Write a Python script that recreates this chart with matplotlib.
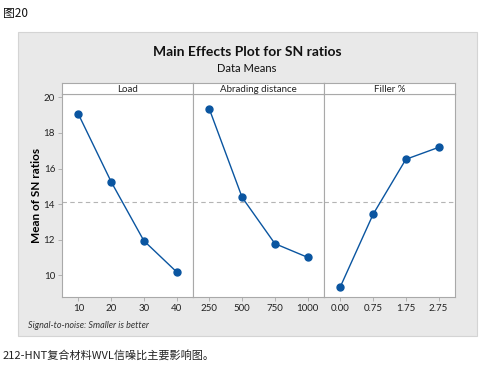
import matplotlib
matplotlib.use("Agg")
import matplotlib.pyplot as plt
from matplotlib.patches import Rectangle

plt.rcParams['font.family'] = ['Lato', 'Noto Sans CJK SC', 'DejaVu Sans']

factors = ["Load", "Abrading distance", "Filler %"]
load_levels = ["10", "20", "30", "40"]
load_means = [19.06, 15.26, 11.94, 10.19]
dist_levels = ["250", "500", "750", "1000"]
dist_means = [19.34, 14.38, 11.78, 11.01]
filler_levels = ["0.00", "0.75", "1.75", "2.75"]
filler_means = [9.36, 13.43, 16.52, 17.19]
y_ticks = [10, 12, 14, 16, 18, 20]

levels = [load_levels, dist_levels, filler_levels]
means = [load_means, dist_means, filler_means]
overall = sum(load_means + dist_means + filler_means) / 12

W, H = 489, 371
fig = plt.figure(figsize=(W / 100, H / 100), dpi=100)

def fx(px):
    return px / W

def fy(py):
    return 1 - py / H

# grey background panel
fig.patches.append(Rectangle((fx(18), fy(336)), fx(459), (336 - 32) / H,
                             transform=fig.transFigure, facecolor="#e9e9e9",
                             edgecolor="#d4d4d4", linewidth=0.8, zorder=-5))

blue = "#0a55a0"
edge = "#a9a9a9"
left0, pw = 62, 131
top_strip, top_ax, bot_ax = 83, 94, 297

for i, (name, lv, mv) in enumerate(zip(factors, levels, means)):
    x0 = left0 + i * pw
    ax = fig.add_axes([fx(x0), fy(bot_ax), pw / W, (bot_ax - top_ax) / H])
    ax.set_zorder(2)
    xs = list(range(len(lv)))
    ax.axhline(overall, color="#b4b4b4", linestyle=(0, (4, 3)), linewidth=0.8, zorder=1)
    ax.plot(xs, mv, color=blue, linewidth=1.0, marker="o", markersize=5, zorder=3)
    ax.set_xlim(-0.5, 3.5)
    ax.set_ylim(8.78, 20.19)
    ax.set_xticks(xs)
    ax.set_xticklabels(lv, fontsize=7, color="#222222")
    ax.tick_params(axis="x", length=3, width=0.6, color=edge, pad=2)
    if i == 0:
        ax.set_yticks(y_ticks)
        ax.set_yticklabels([str(t) for t in y_ticks], fontsize=7, color="#222222")
        ax.tick_params(axis="y", length=3, width=0.6, color=edge, pad=2)
        ax.set_ylabel("Mean of SN ratios", fontsize=8.5, fontweight="bold", labelpad=1)
    else:
        ax.set_yticks([])
    for s in ax.spines.values():
        s.set_color(edge)
        s.set_linewidth(0.8)
    # strip
    sax = fig.add_axes([fx(x0), fy(top_ax), pw / W, (top_ax - top_strip) / H])
    sax.set_zorder(2)
    sax.set_xticks([])
    sax.set_yticks([])
    sax.set_facecolor("white")
    for s in sax.spines.values():
        s.set_color(edge)
        s.set_linewidth(0.8)
    sax.text(0.5, 0.45, name, ha="center", va="center", fontsize=7,
             color="#222222", transform=sax.transAxes)

fig.text(fx(247), fy(52), "Main Effects Plot for SN ratios", ha="center", va="center",
         fontsize=10, fontweight="bold", color="#111111")
fig.text(fx(247), fy(68), "Data Means", ha="center", va="center",
         fontsize=8, color="#111111")
fig.text(fx(28), fy(326), "Signal-to-noise: Smaller is better", ha="left", va="center",
         fontsize=6.5, style="italic", color="#333333")
fig.text(fx(3), fy(14), "图20", ha="left", va="center", fontsize=8.5,
         family=["Noto Sans CJK SC", "DejaVu Sans"], color="#111111")
fig.text(fx(3), fy(355), "212-HNT复合材料WVL信噪比主要影响图。", ha="left", va="center",
         fontsize=8, family=["Noto Sans CJK SC", "DejaVu Sans"], color="#222222")

fig.savefig("out.png", dpi=100, facecolor="white")
